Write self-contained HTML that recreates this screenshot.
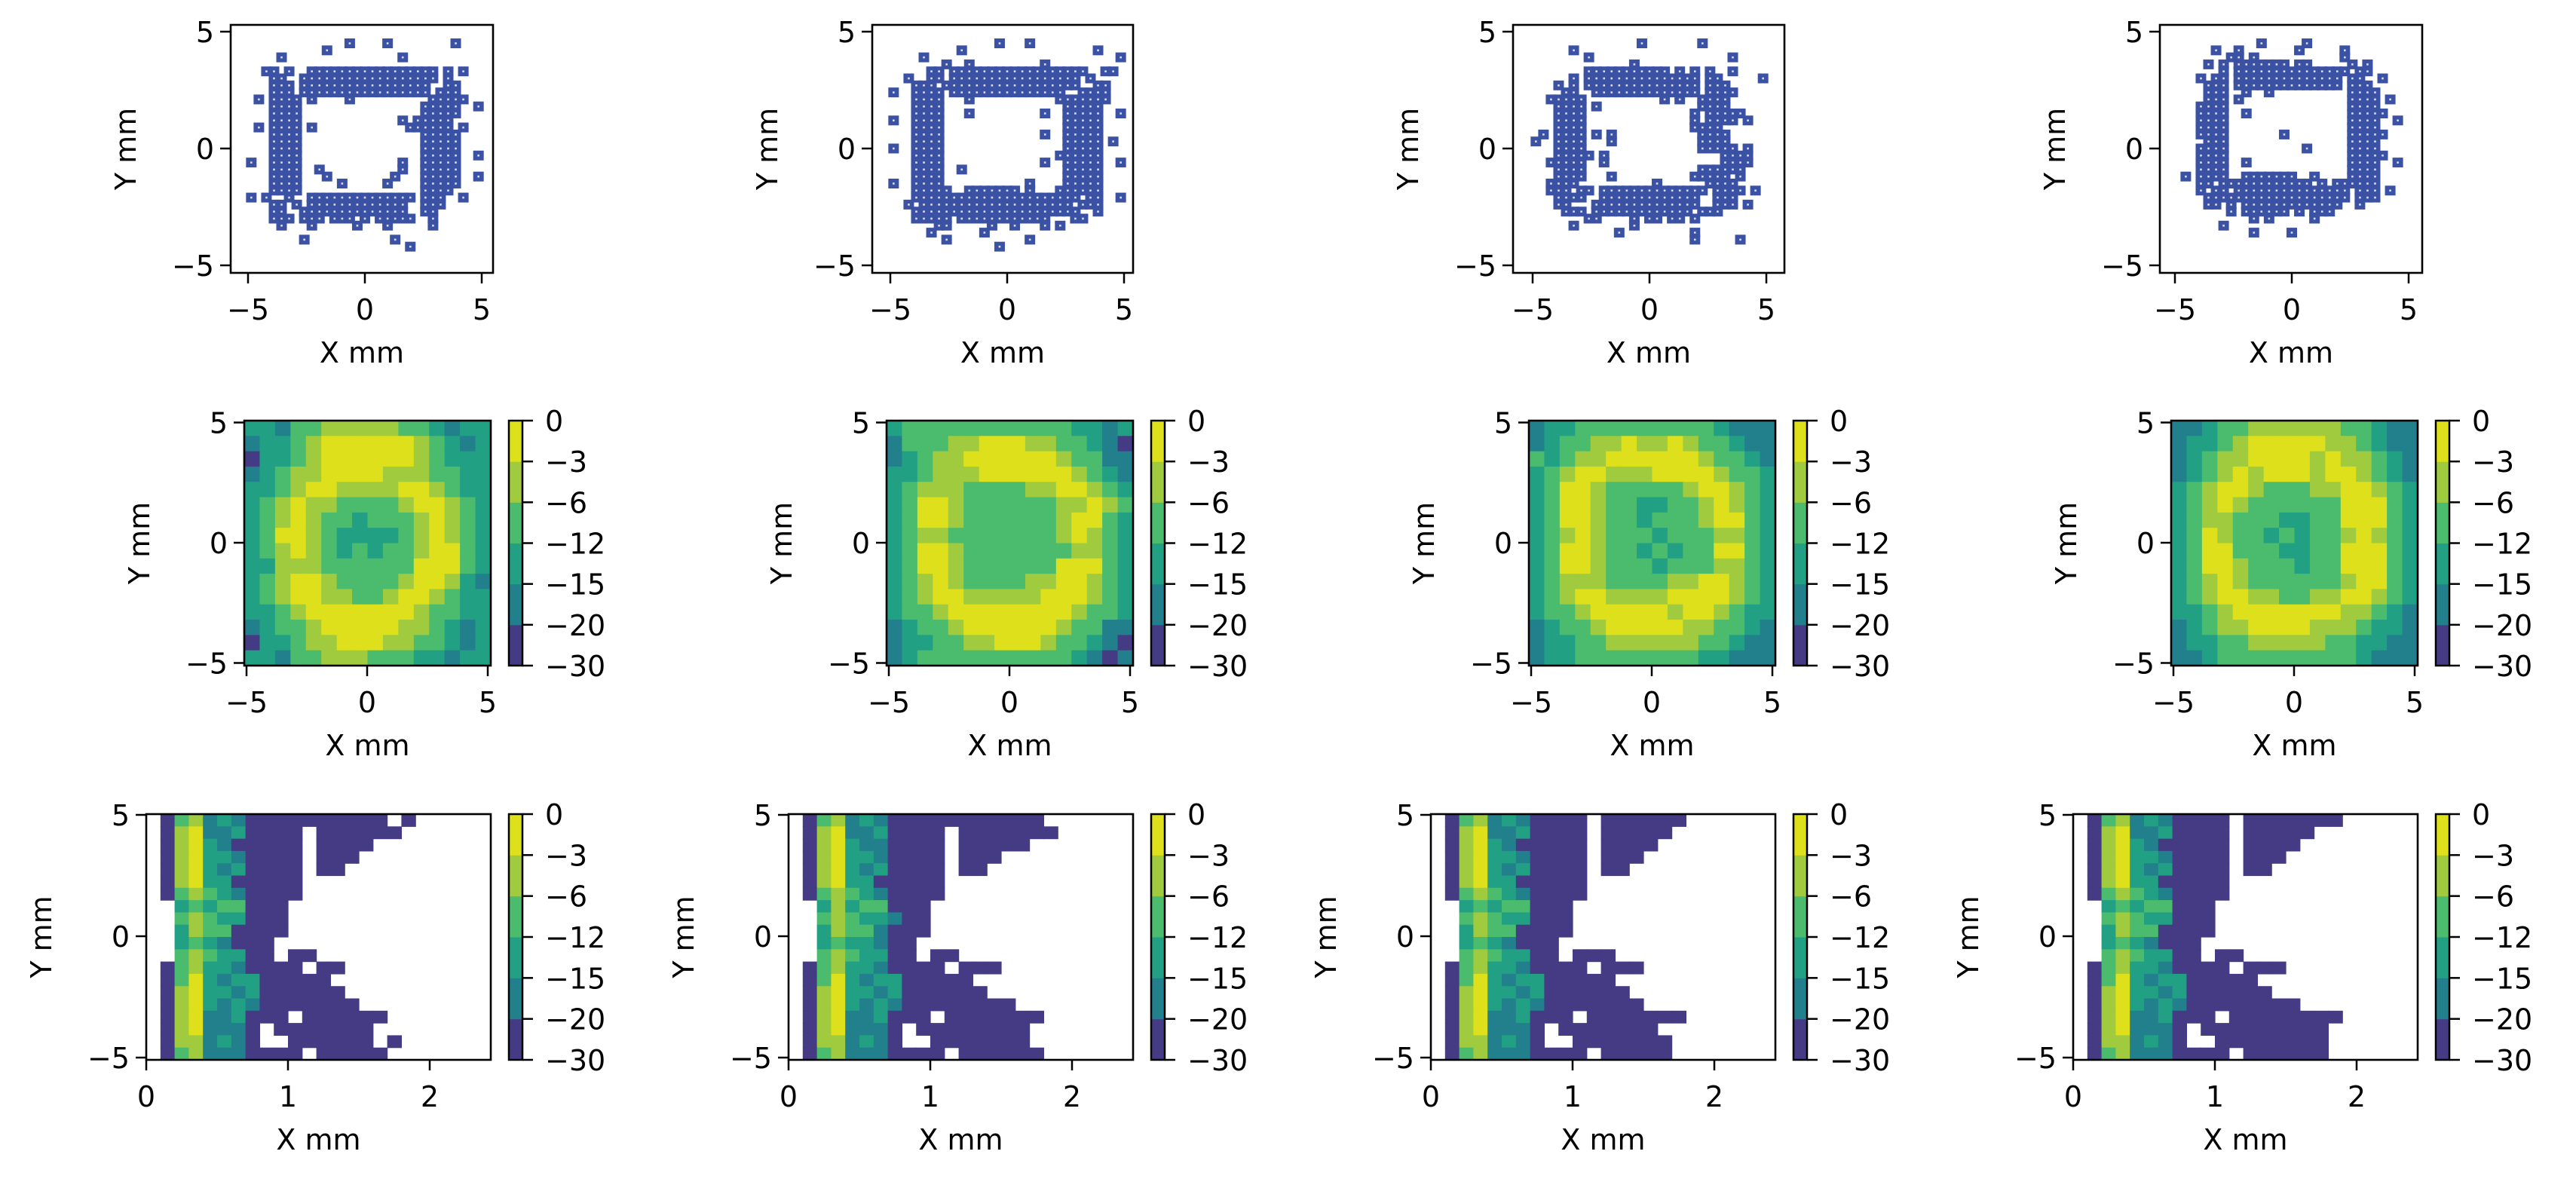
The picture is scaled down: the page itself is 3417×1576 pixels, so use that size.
<!DOCTYPE html>
<html><head><meta charset="utf-8">
<style>
html,body{margin:0;padding:0;background:#fff;}
svg{display:block;}
text{font-family:"DejaVu Sans","Liberation Sans",sans-serif;fill:#000;}
</style></head>
<body>
<svg id="fig" xmlns="http://www.w3.org/2000/svg" width="3417" height="1576" viewBox="0 0 3417 1576"></svg>
<script>
// ---------- data ----------
const bandColors = ["#453a84","#22808c","#22a084","#4bbb6d","#a0cb3f","#dde01a"];
const cbarLabels = ["0","\u22123","\u22126","\u221212","\u221215","\u221220","\u221230"];
const xyTicks = [-5,0,5];
const row3XTicks = [0,1,2];
const scatterStep = 0.3;

const scatter1 = [
".................................",
"..............#....#........#....",
"...........#.....................",
".....#...............#...........",
".................................",
"...##.#..#################.#.#...",
"....##..##################.#.....",
"....###.#################..##....",
"....###.#################.###....",
"..#.####.#....#..........#####...",
"....####................#####..#.",
"....####................#####....",
"....####.............#.#####.....",
"..#.####.#............######.#...",
"....####................#####....",
"....####................#####....",
"....####................#####....",
"....####................#####..#.",
".#..####.............#..#####....",
"....####..#..........#..#####....",
"....####...#........#...#####..#.",
"....####.....#.....#....#####....",
"....####................####.....",
".#.#..#..##############.###..#...",
"....##.#.#############..###......",
"....##..##############..##.......",
"....###.###.###.#.#####..#.......",
".....#...#.....#...#.....#.......",
".................................",
"........#...........#............",
"......................#..........",
".................................",
"................................."];
const scatter2 = [
".................................",
"...............#...#.............",
"..........#.................#....",
".....#.........................#.",
"........#..#.........#...........",
"......##.##################..##..",
"...#..##.#################.#....",
"....###.##################..##...",
".#..####.###############..####...",
"....####...#...........#######...",
"....####................#####....",
"....####...#.........#..#####..#.",
".#..####................#####....",
"....####................#####....",
"....####.............#..#####....",
"....####................#####.#..",
".#..####................#####....",
"....####...............######....",
"....####.............#..#####..#.",
"....####..#.............#####....",
"....####................#####....",
".#..####...........#....#####....",
"....#####..#######.#...######....",
"....######################.##..#.",
"...#.####################.###....",
"....######################..#....",
"....#####.############...##......",
".......##.....#..#...#.#.........",
"......#......#...................",
"........#..........#.............",
"...............#.................",
".................................",
"................................."];
const scatter3 = [
".................................",
"...............#.......#.........",
"......#..........................",
"........#..................#.....",
"..............#..................",
"........###########.#.#.#..#.....",
"......#.###############.##.....#.",
"....#.#.###############.###......",
".....##..##############.####.....",
"...#####..........#.#..####......",
"....####.#.............####......",
"....####..............#.#####....",
"....####..............#.####.#...",
"....####..............####.......",
"..#.####.#.#...........####......",
".#..####...#...........####......",
"....####...............#####.#...",
"....#####.#...............####...",
"...#####..#...............####...",
"....####...............######....",
"....####...#..........#####.#....",
"...####..........#......####.....",
"...###.##.##############.####.#..",
"....####..#############..###.....",
"....##...##############..###.#...",
".....###.#############.###.......",
"........##....#.##.##.#..........",
"......#.......#..................",
"............#.........#..........",
"......................#.....#....",
".................................",
".................................",
"................................."];
const scatter4 = [
".................................",
"............#.....#..............",
"......#..#.......#.....#.........",
"........##.#...........#.........",
".....#.#.#######.##.....#.#......",
".......#.###############.##......",
"....#.##.##############.##..#....",
".....###.##############.###......",
".....###..#..#..........####.....",
".....###.#..............####.#...",
"....####................####.....",
"....####..#.............#####....",
"....####................####..#..",
"....####................####.....",
"....####.......#........#####....",
".....###................####.....",
"....####..........#.....####.....",
"....####................#####....",
"....####..#.............####..#..",
"....####................####.....",
"..#.####..#######..#....####.....",
"....##.############.#.######.....",
"....#.##.###############.###.#...",
".....###################.###.....",
".....##.#.#############..#.......",
"........#.######.#.###...........",
"...........#.#.....#.............",
".......#.........................",
"...........#....#................",
".................................",
".................................",
".................................",
"................................."];

// planar field band indices (0=-30..-20 ... 5=-3..0)
const field1 = ["2213344444332122","1223455555543212","0223455555543222","1234455554443322","2234554444554322","2345443333455432","2345433233345432","2355432222345432","2345432323345532","2244433333355532","2345543333455421","2345544334554322","2234555555543322","1233455555443212","0223445554433212","2213344433322122"];
const field2 = ["2333333333332212","1333445554433210","1234455555543311","2234445555554321","2344433334455432","2355433333344543","2355433333345532","2344333333345432","2355433333334432","2355433333355532","2345433334455432","2345544444555432","2334555555554332","1233455555543311","1223344555433210","1233333333332101"];
const field3 = ["1223333333332111","1233445445433211","3234455555543321","2345544455554332","2355433333455432","2355433223345432","2355433233345532","2345433323334432","2355433232335532","2355433323334432","2344433334455432","2345544445555432","2334555554554322","1233455555443321","1223344444433211","1223333333322111"];
const field4 = ["1123344444433211","1223455555443211","1234455554544321","1234545554554321","2345543334455432","2345433333355532","2344333223355532","2354332323345432","2355333223355532","2355433323355532","2345433333345532","2345544334455432","2234555555544321","1234455554443221","1223344444332211","1123333333332111"];

// cross-section field (x 0..2.5 step 0.1, y 5..-5 step 0.5); '.' = below -30
const slice1 = [".0341210000000000.0......",".0451120000.000000.......",".0452100000.0000.........",".0452210000.000..........",".0452120000.00...........",".0452200000..............",".0343210000..............","..23233000...............","..34322000...............","..24330000...............","..2321000................","..3432200.00.............",".0342210000.00...........",".035212200000............",".0452212000000...........",".04521210000000..........",".045112000.000000........",".0451110.0000000.........",".0441210..000000.0.......",".0341110000.00000........"];
const slice2 = [".03412100000000000.......",".0451120000.0000000......",".0452110000.00000........",".0452210000.000..........",".0452120000.00...........",".0452200000..............",".0343210000..............","..24233000...............","..34322100...............","..24331000...............","..2322100................","..3432200.00.............",".0342210000.000..........",".035212200000............",".0452212000000...........",".045212100000000.........",".045112000.0000000.......",".0451110.00000000........",".0441210..0000000........",".0341110000.000000......."];
const slice3 = [".0341210000.000000.......",".0451120000.00000........",".0452100000.0000.........",".0452210000.000..........",".0452120000.00...........",".0452200000..............",".0343210000..............","..23233000...............","..34322000...............","..24330000...............","..2321000................","..3432200.000............",".0342210000.000..........",".035212200000............",".0452212000000...........",".04521210000000..........",".045112000.0000000.......",".0451110.0000000.........",".0441210..0000000........",".0341110000.00000........"];
const slice4 = [".0341210000.0000000......",".0451120000.00000........",".0452100000.0000.........",".0452210000.000..........",".0452120000.00...........",".0452200000..............",".0343210000..............","..23233000...............","..34322000...............","..24330000...............","..2321000................","..3432200.00.............",".0342210000.000..........",".035212200000............",".0452212000000...........",".045212100000000.........",".045112000.00000000......",".0451110.000000000.......",".0441210..00000000.......",".0341110000.000000......."];

const scatterSets = [scatter1, scatter2, scatter3, scatter4];
const fieldSets = [field1, field2, field3, field4];
const sliceSets = [slice1, slice2, slice3, slice4];

// ---------- layout ----------
const NS = "http://www.w3.org/2000/svg";
const svg = document.getElementById("fig");
const colOff = 852;
const FS = 38;
function mk(tag, attrs, parent){
  const e = document.createElementNS(NS, tag);
  for (const k in attrs) e.setAttribute(k, attrs[k]);
  (parent || svg).appendChild(e);
  return e;
}
function txt(str, x, y, anchor, baseline, parent){
  const t = mk("text", {x:x, y:y, "text-anchor":anchor, "dominant-baseline":baseline, "font-size":FS}, parent);
  t.textContent = str;
  return t;
}
function fmt(v){ return v < 0 ? "\u2212" + Math.abs(v) : String(v); }

function axesDecor(g, L, R, T, B, xPos, yPos, xTicks, yTicks){
  const box = mk("rect", {x:L, y:T, width:R-L, height:B-T, fill:"none", stroke:"#000", "stroke-width":2.6}, g);
  
  
  xTicks.forEach(v => {
    const px = xPos(v);
    const tk = mk("line", {x1:px, x2:px, y1:B, y2:B+14, stroke:"#000", "stroke-width":2.5}, g);
    
    
    const lb = txt(fmt(v), px, B+62, "middle", "auto", g);
    
    
  });
  yTicks.forEach(v => {
    const py = yPos(v);
    const tk = mk("line", {x1:L-14, x2:L, y1:py, y2:py, stroke:"#000", "stroke-width":2.5}, g);
    
    
    const lb = txt(fmt(v), L-22, py+1, "end", "central", g);
    
    
  });
  const xl = txt("X mm", (L+R)/2, B+119, "middle", "auto", g);
  
  
  const cy = (T+B)/2, cx = L-139;
  const yl = txt("Y mm", cx, cy, "middle", "central", g);
  yl.setAttribute("transform", "rotate(-90 " + cx + " " + cy + ")");
  
  
}

function colorbar(g, L, T, B){
  const w = 18, n = bandColors.length, h = (B-T)/n;
  for (let k = 0; k < n; k++){
    const r = mk("rect", {x:L, y:T+(n-1-k)*h, width:w, height:h+0.5, fill:bandColors[k]}, g);
    
    
  }
  const fr = mk("rect", {x:L, y:T, width:w, height:B-T, fill:"none", stroke:"#000", "stroke-width":2.5}, g);
  
  
  cbarLabels.forEach((s, k) => {
    const py = T + k*(B-T)/(cbarLabels.length-1);
    const tk = mk("line", {x1:L+w, x2:L+w+14, y1:py, y2:py, stroke:"#000", "stroke-width":2.5}, g);
    
    
    const lb = txt(s, L+w+30, py+1, "start", "central", g);
    
    
  });
}

// ---------- row 1: scatter ----------
const r1Zero = [484, 1336, 2188, 3040];
const r1L = [306, 1157, 2007, 2865];
const r1R = [654, 1503, 2367, 3213];
const r1T = 33, r1B = 362, r1Y0 = 197, r1S = 31;
scatterSets.forEach((grid, p) => {
  const g = mk("g", {});
  
  
  const xPos = v => r1Zero[p] + v*r1S;
  const yPos = v => r1Y0 - v*r1S;
  const n = grid.length, half = (n-1)/2;
  const pts = [];
  grid.forEach((row, j) => {
    for (let i = 0; i < row.length; i++){
      if (row[i] !== "#") continue;
      pts.push([(i-half)*scatterStep*1.08, (half-j)*scatterStep]);
    }
  });
  pts.forEach(([xv, yv]) => {
    const px = xPos(xv), py = yPos(yv);
    const m = mk("rect", {x:px-7, y:py-6.5, width:14, height:13, fill:"#3a51a4"}, g);
    
    
  });
  pts.forEach(([xv, yv]) => {
    const px = xPos(xv), py = yPos(yv);
    const d = mk("rect", {x:px-1.3, y:py-1.3, width:2.6, height:2.6, fill:"#d8dcef"}, g);
    
    
  });
  axesDecor(g, r1L[p], r1R[p], r1T, r1B, xPos, yPos, xyTicks, xyTicks);
});

// ---------- row 2: planar contour ----------
fieldSets.forEach((grid, p) => {
  const off = p*colOff;
  const L = 324+off, R = 651+off, T = 558, B = 883;
  const g = mk("g", {});
  
  
  const xPos = v => 487+off + v*32;
  const yPos = v => 720 - v*31.9;
  const nr = grid.length, nc = grid[0].length;
  const cw = (R-L)/nc, ch = (B-T)/nr;
  grid.forEach((row, j) => {
    for (let i = 0; i < nc; i++){
      const lvl = +row[i];
      const c = mk("rect", {x:L+i*cw, y:T+j*ch, width:cw+0.6, height:ch+0.6, fill:bandColors[lvl]}, g);
      
      
    }
  });
  axesDecor(g, L, R, T, B, xPos, yPos, xyTicks, xyTicks);
  colorbar(g, 675+off, T, B);
});

// ---------- row 3: cross-section contour ----------
sliceSets.forEach((grid, p) => {
  const off = p*colOff;
  const L = 194+off, R = 651+off, T = 1080, B = 1406;
  const g = mk("g", {});
  
  
  const xPos = v => L + v*188;
  const yPos = v => 1242 - v*32.2;
  const clipId = "clip" + p;
  const cp = mk("clipPath", {id:clipId}, g);
  mk("rect", {x:L, y:T, width:R-L, height:B-T}, cp);
  const cg = mk("g", {"clip-path":"url(#" + clipId + ")"}, g);
  const nr = grid.length, dx = 0.1;
  const ch = (B-T)/nr;
  grid.forEach((row, j) => {
    for (let i = 0; i < row.length; i++){
      if (row[i] === ".") continue;
      const lvl = +row[i];
      const x0 = xPos(i*dx), x1 = xPos((i+1)*dx);
      const c = mk("rect", {x:x0, y:T+j*ch, width:x1-x0+0.6, height:ch+0.6, fill:bandColors[lvl]}, cg);
      
      
    }
  });
  axesDecor(g, L, R, T, B, xPos, yPos, row3XTicks, xyTicks);
  colorbar(g, 675+off, T, B);
});
</script>
</body></html>
